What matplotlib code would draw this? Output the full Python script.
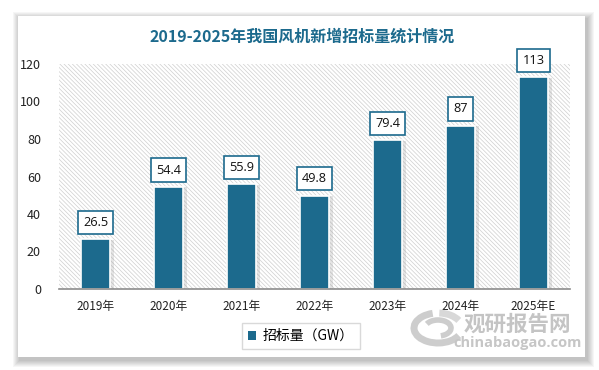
import matplotlib
matplotlib.use("Agg")
import matplotlib.pyplot as plt
import matplotlib.patches as patches
from matplotlib.patches import Patch

plt.rcParams['font.family'] = ['Noto Sans CJK SC', 'DejaVu Sans']

# Datos
years = ["2019年", "2020年", "2021年", "2022年", "2023年", "2024年", "2025年E"]
values = [26.5, 54.4, 55.9, 49.8, 79.4, 87, 113]
labels = ["26.5", "54.4", "55.9", "49.8", "79.4", "87", "113"]
yticks = [0, 20, 40, 60, 80, 100, 120]

W, H = 599, 370
bar_color = "#1c6a8d"
title_color = "#1c6a8d"

fig = plt.figure(figsize=(W / 100, H / 100), dpi=100)
fig.patch.set_facecolor("white")

# Capa de fondo en pixeles (tarjeta + sombra)
bg = fig.add_axes([0, 0, 1, 1], zorder=0)
bg.set_xlim(0, W)
bg.set_ylim(H, 0)
bg.axis("off")
cx0, cy0, cx1, cy1 = 18, 16, 585, 357
for s in range(7, 0, -1):
    bg.add_patch(patches.Rectangle((cx0 - s + 2, cy0 - s + 3), cx1 - cx0 + 2 * s, cy1 - cy0 + 2 * s,
                                   facecolor="black", edgecolor="none", alpha=0.035))
bg.add_patch(patches.Rectangle((cx0, cy0), cx1 - cx0, cy1 - cy0, facecolor="white", edgecolor="none"))

ax = fig.add_axes([59 / W, 1 - 289 / H, (570 - 59) / W, (289 - 64) / H], zorder=2)
ax.set_facecolor("none")

# Fondo rayado
plt.rcParams['hatch.linewidth'] = 0.5
hatch_bg = patches.Rectangle((0, 0), 1, 1, transform=ax.transAxes, facecolor="white",
                             edgecolor="#cfcfcf", hatch="\\" * 8, linewidth=0, zorder=0)
ax.add_patch(hatch_bg)

x = list(range(len(years)))
bw = 0.41
# Sombra de las barras
ax.bar([i + 0.02 for i in x], [v + 0.8 for v in values], width=bw + 0.05, color="#8a8a8a",
       alpha=0.22, zorder=1, bottom=-1.0)
ax.bar(x, values, width=bw, color=bar_color, edgecolor="white", linewidth=1.2, zorder=2)

for i, (v, t) in enumerate(zip(values, labels)):
    ax.annotate(t, (i, v), xytext=(0, 7.5), textcoords="offset points",
                ha="center", va="bottom", fontsize=9.2, color="#111111", zorder=4,
                family=["Open Sans", "DejaVu Sans"],
                bbox=dict(boxstyle="square,pad=0.4", facecolor="white",
                          edgecolor=bar_color, linewidth=1.2))

ax.set_xlim(-0.5, len(years) - 0.5)
ax.set_ylim(0, 120)
ax.set_yticks(yticks)
ax.set_xticks(x)
ax.set_xticklabels(years, fontsize=8.5, color="#222222")
ax.tick_params(axis="y", labelsize=9, colors="#222222", length=0, pad=13)
ax.tick_params(axis="x", length=0, pad=8)
for sp in ["top", "right", "left"]:
    ax.spines[sp].set_visible(False)
ax.spines["bottom"].set_color("#8c8c8c")
ax.spines["bottom"].set_linewidth(1.2)
ax.spines["bottom"].set_zorder(3)

fig.text(302 / W, 1 - 37 / H, "2019-2025年我国风机新增招标量统计情况", ha="center", va="center",
         fontsize=11.5, fontweight="bold", color=title_color, zorder=5)

leg = fig.legend(handles=[Patch(facecolor=bar_color, label="招标量（GW）")],
                 loc="center", bbox_to_anchor=(301 / W, 1 - 336 / H), fontsize=10,
                 frameon=True, fancybox=False, edgecolor="#d0d0d0", handlelength=0.6,
                 handleheight=0.6, handletextpad=0.5, borderpad=0.45)
leg.get_frame().set_linewidth(1.0)
leg.set_zorder(5)

# Marca de agua (capa superior en pixeles)
wm = fig.add_axes([0, 0, 1, 1], zorder=4)
wm.set_xlim(0, W)
wm.set_ylim(H, 0)
wm.axis("off")
wm.patch.set_alpha(0)
wm.add_patch(patches.Arc((438, 328), 48, 30, theta1=20, theta2=250, linewidth=5, color="#cdcdcd"))
wm.add_patch(patches.Arc((438, 328), 26, 16, theta1=200, theta2=70, linewidth=4, color="#cdcdcd"))
wm.add_patch(patches.Arc((438, 328), 48, 30, theta1=275, theta2=340, linewidth=5, color="#d8d8d8"))
wm.text(517, 324, "观研报告网", ha="center", va="center", fontsize=15.5,
        fontweight="bold", color="#c4c4c4")
wm.text(518, 343, "chinabaogao.com", ha="center", va="center", fontsize=10.5,
        fontweight="bold", color="#c6c6c6", family=["Open Sans", "DejaVu Sans"])

fig.savefig("out.png", dpi=100)
